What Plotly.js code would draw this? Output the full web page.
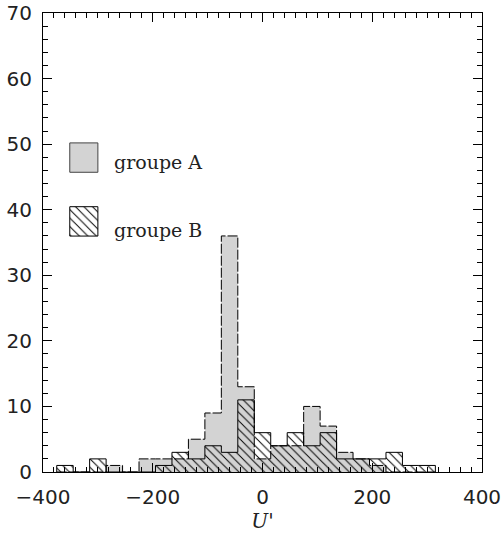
<!DOCTYPE html>
<html>
<head>
<meta charset="utf-8">
<script src="https://cdn.plot.ly/plotly-3.0.1.min.js"></script>
<style>html,body{margin:0;padding:0;background:#fff;}#chart{width:503px;height:534px;}</style>
</head>
<body>
<div id="chart"></div>
<script>
// ---- data (histogram of U', bin width 30) ----
const binCenters = [-360,-330,-300,-270,-240,-210,-180,-150,-120,-90,-60,-30,0,30,60,90,120,150,180,210,240,270,300];
const groupA     = [   0,   0,   0,   1,   0,   2,   2,   2,   5,  9, 36, 13,2, 4, 4,10,  7,  3,  2,  1,  0,  0,  0];
const groupB     = [   1,   0,   2,   0,   0,   0,   1,   3,   2,  4,  3, 11,6, 4, 6, 4,  6,  2,  2,  2,  3,  1,  1];
const binWidth = 30;
const labelA = "groupe A";
const labelB = "groupe B";
const xTicks = [-400,-200,0,200,400];

// build step outline from bins
function steps(centers, counts, w) {
  const xs = [centers[0] - w/2], ys = [0];
  for (let i = 0; i < centers.length; i++) { xs.push(centers[i] - w/2); ys.push(counts[i]); }
  const last = centers[centers.length-1] + w/2;
  xs.push(last); ys.push(counts[counts.length-1]);
  xs.push(last); ys.push(0);
  return {x: xs, y: ys};
}
const sA = steps(binCenters, groupA, binWidth);
const sB = steps(binCenters, groupB, binWidth);

const hatch = {shape: '\\', size: 6, solidity: 0.16, fgcolor: '#000', bgcolor: 'rgba(0,0,0,0)'};
const gray = 'rgb(211,211,211)';

const traces = [
  {x: sA.x, y: sA.y, type: 'scatter', mode: 'lines', line: {shape: 'hv', color: '#000', width: 1, dash: '10px,2px'},
   fill: 'tozeroy', fillcolor: gray, showlegend: false, hoverinfo: 'skip'},
  {x: sB.x, y: sB.y, type: 'scatter', mode: 'lines', line: {shape: 'hv', color: '#000', width: 1},
   fill: 'tozeroy', fillcolor: 'rgba(0,0,0,0)', fillpattern: hatch, showlegend: false, hoverinfo: 'skip'},
  // legend swatches (overlay axes in [0,1])
  {x: [0.061,0.125,0.125,0.061,0.061], y: [0.653,0.653,0.717,0.717,0.653], xaxis: 'x2', yaxis: 'y2',
   type: 'scatter', mode: 'lines', fill: 'toself', fillcolor: gray, line: {color: '#444', width: 1}, showlegend: false, hoverinfo: 'skip'},
  {x: [0.061,0.125,0.125,0.061,0.061], y: [0.514,0.514,0.578,0.578,0.514], xaxis: 'x2', yaxis: 'y2',
   type: 'scatter', mode: 'lines', fill: 'toself', fillcolor: 'rgba(0,0,0,0)', fillpattern: hatch, line: {color: '#000', width: 1}, showlegend: false, hoverinfo: 'skip'}
];

const tickFont = {family: 'DejaVu Sans', size: 20, color: '#222'};
const layout = {
  width: 503, height: 534,
  margin: {l: 43, r: 21, t: 13, b: 62},
  paper_bgcolor: '#fff', plot_bgcolor: '#fff',
  showlegend: false,
  xaxis: {
    range: [-400, 400], tickvals: xTicks, ticks: 'inside', ticklen: 9, tickcolor: '#000',
    minor: {dtick: 20, ticklen: 5, ticks: 'inside', tickcolor: '#000'},
    showline: true, linecolor: '#000', linewidth: 1, mirror: 'ticks',
    showgrid: false, zeroline: false, tickfont: tickFont, ticklabelstandoff: 7,
    title: {text: "<i>U'</i>", font: {family: 'DejaVu Serif', size: 20, color: '#222'}, standoff: 3}
  },
  yaxis: {
    range: [0, 70], dtick: 10, ticks: 'inside', ticklen: 9, tickcolor: '#000',
    minor: {dtick: 2, ticklen: 5, ticks: 'inside', tickcolor: '#000'},
    showline: true, linecolor: '#000', linewidth: 1, mirror: 'ticks',
    showgrid: false, zeroline: false, tickfont: tickFont, ticklabelstandoff: 6
  },
  xaxis2: {overlaying: 'x', range: [0,1], visible: false, fixedrange: true},
  yaxis2: {overlaying: 'y', range: [0,1], visible: false, fixedrange: true},
  annotations: [
    {xref: 'paper', yref: 'paper', x: 0.157, y: 0.675, xanchor: 'left', yanchor: 'middle', showarrow: false,
     text: labelA, font: {family: 'DejaVu Serif', size: 19, color: '#222'}},
    {xref: 'paper', yref: 'paper', x: 0.157, y: 0.527, xanchor: 'left', yanchor: 'middle', showarrow: false,
     text: labelB, font: {family: 'DejaVu Serif', size: 19, color: '#222'}}
  ]
};
Plotly.newPlot('chart', traces, layout, {displayModeBar: false, staticPlot: true});
</script>
</body>
</html>
